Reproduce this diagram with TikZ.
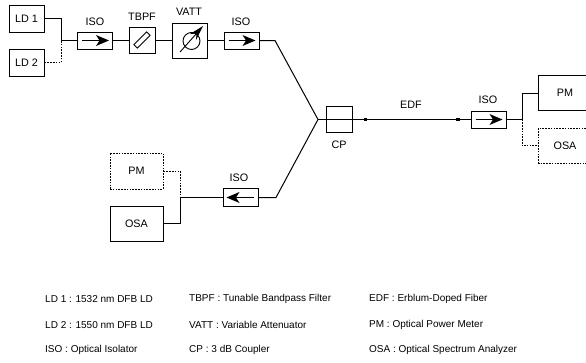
\documentclass[tikz,border=0pt]{standalone}
\usepackage{fontspec}
\setmainfont{Liberation Sans}
\tikzset{
 x=1pt,y=-1pt,
 dotline/.style={dash pattern=on 1.6pt off 1.2pt},
 box/.style={draw,line width=1pt,inner sep=0pt,minimum width=#1,font=\fontsize{10.8}{12}\selectfont},
 openbox/.style={inner sep=0pt,minimum width=52pt,minimum height=35pt,font=\fontsize{10.8}{12}\selectfont},
 fib/.style={line width=1pt},
 dot/.style={line width=1pt,dotline},
 lbl/.style={font=\fontsize{10.8}{12}\selectfont,inner sep=0pt},
 leg/.style={font=\fontsize{10}{12}\selectfont,inner sep=0pt,anchor=west},
 splice/.style={fill=black,inner sep=0pt,minimum width=3.5pt,minimum height=3pt},
}
\newcommand{\isoR}[1]{\draw[line width=0.6pt] ([xshift=-13pt]#1.center) -- ([xshift=8pt]#1.center);
 \fill ([xshift=14pt]#1.center) -- ++(-13,-5.5) -- ++(3.5,5.5) -- ++(-3.5,5.5) -- cycle;}
\newcommand{\isoL}[1]{\draw[line width=0.6pt] ([xshift=13pt]#1.center) -- ([xshift=-8pt]#1.center);
 \fill ([xshift=-14pt]#1.center) -- ++(13,-5.5) -- ++(-3.5,5.5) -- ++(3.5,5.5) -- cycle;}
\begin{document}
\begin{tikzpicture}
\useasboundingbox (0,0) rectangle (586,362);
\path[fill=white] (0,0) rectangle (586,362);
% boxes
\node[box=35pt,minimum height=27pt] (ld1) at (26.5,18.5) {LD 1};
\node[box=35pt,minimum height=27pt] (ld2) at (26.5,62.5) {LD 2};
\node[box=35pt,minimum height=17pt] (iso1) at (95,40.5) {};
\node[box=26pt,minimum height=26pt] (tbpf) at (142,40) {};
\node[box=35pt,minimum height=35pt] (vatt) at (190,41) {};
\node[box=35pt,minimum height=17pt] (iso2) at (241.5,40.5) {};
\node[box=26pt,minimum height=26pt] (cp) at (339.7,119.4) {};
\node[box=35pt,minimum height=17pt] (iso3) at (488.5,119.5) {};
\node[openbox] (pmr) at (565,93) {PM};
\node[openbox] (osar) at (565,145.5) {OSA};
\node[box=53pt,minimum height=36pt,dotline] (pml) at (136.5,171) {PM};
\node[box=53pt,minimum height=35pt] (osal) at (136.5,223.5) {OSA};
\node[box=35pt,minimum height=18pt] (iso4) at (240.5,197.5) {};
\draw[line width=1pt] (586,75.5) -| (pmr.west) |- (586,110.5);
\draw[line width=1pt,dotline] (586,128) -| (osar.west) |- (586,163);
% labels
\node[lbl] (l1) at (95,22) {ISO};
\node[lbl] (l2) at (142,17) {TBPF};
\node[lbl] (l3) at (189,12) {VATT};
\node[lbl] (l4) at (241,22) {ISO};
\node[lbl] (l5) at (411,105) {EDF};
\node[lbl] (l6) at (488,100) {ISO};
\node[lbl] (l7) at (339,145) {CP};
\node[lbl] (l8) at (239,178) {ISO};
% junctions
\coordinate (j1) at (61,40.5);
\coordinate (k1) at (275,40.5);
\coordinate (c) at (318,119.5);
\coordinate (c2) at (340,119.5);
\coordinate (k2) at (276,197.5);
\coordinate (j2) at (522,119.5);
\coordinate (j3) at (180,197.5);
% fibres
\draw[fib] (ld1.east) -| (j1);
\draw[dot] (ld2.east) -| (j1);
\draw[fib] (j1) -- (iso1.west);
\draw[fib] (iso1.east) -- (tbpf.west |- iso1.east);
\draw[fib] (tbpf.east |- iso1.east) -- (vatt.west |- iso1.east);
\draw[fib] (vatt.east |- iso2.west) -- (iso2.west);
\draw[fib] (iso2.east) -- (k1) -- (c);
\draw[fib] (iso4.east) -- (k2) -- (c);
\node[splice] (s1) at (365.5,119.5) {};
\node[splice] (s2) at (458,119.5) {};
\draw[line width=1.4pt] (c) -- (c2);
\draw[fib] (c2) -- (s1.center) -- (s2.center) -- (iso3.west);
\draw[line width=1.4pt] (405,119.5) -- (425,119.5);
\draw[fib] (iso3.east) -- (j2);
\draw[fib] (j2) |- (pmr.west);
\draw[dot] (j2) |- (osar.west);
\draw[fib] (iso4.west) -- (j3);
\draw[fib] (osal.east) -| (j3);
\draw[dot] (pml.east) -| (j3);
% isolators
\isoR{iso1}\isoR{iso2}\isoR{iso3}\isoL{iso4}
% filter
\draw[line width=0.8pt,rotate around={45:(tbpf.center)}] ([xshift=-9pt,yshift=-2.5pt]tbpf.center) rectangle ([xshift=9pt,yshift=2.5pt]tbpf.center);
% attenuator
\draw[line width=0.9pt] (191.5,41) circle (8.5pt);
\draw[line width=0.9pt] (180,52) -- (197,33);
\fill (203,26) -- (190,34) -- (196.5,33.5) -- (196,40) -- cycle;
% legend
\node[leg] (a1) at (45,299) {LD 1 : 1532 nm DFB LD};
\node[leg] (a2) at (45,325) {LD 2 : 1550 nm DFB LD};
\node[leg] (a3) at (45,350) {ISO : Optical Isolator};
\node[leg] (b1) at (189,299) {TBPF : Tunable Bandpass Filter};
\node[leg] (b2) at (189,325) {VATT : Variable Attenuator};
\node[leg] (b3) at (189,350) {CP : 3 dB Coupler};
\node[leg] (c1) at (369,299) {EDF : Erblum-Doped Fiber};
\node[leg] (c2) at (369,325) {PM : Optical Power Meter};
\node[leg] (c3) at (369,350) {OSA : Optical Spectrum Analyzer};
\end{tikzpicture}
\end{document}
